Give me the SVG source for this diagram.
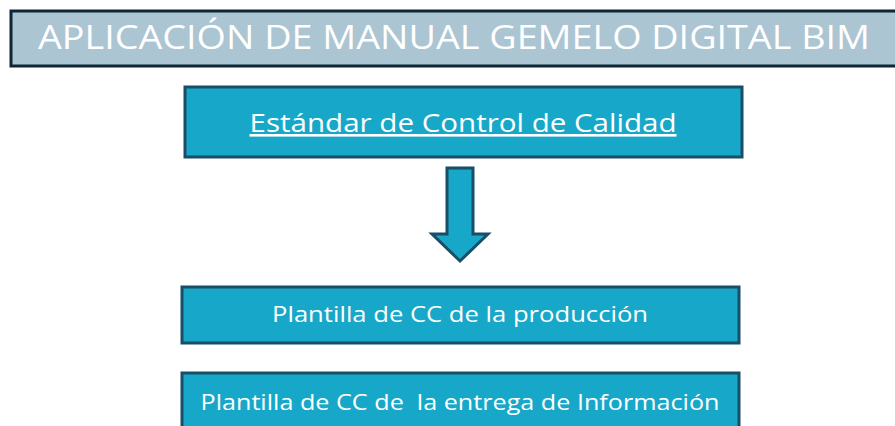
<svg xmlns="http://www.w3.org/2000/svg" width="895" height="426" viewBox="0 0 895 426">
<style>
.title{fill:#abc5d3;stroke:#0e2636;stroke-width:3}
.box{fill:#17a8c9;stroke:#194e68;stroke-width:3}
.t{font-family:"Open Sans","Liberation Sans",Arial,sans-serif;fill:#ffffff;text-anchor:middle;white-space:pre}
.arrow{fill:#17a8c9;stroke:#194e68;stroke-width:3;stroke-linejoin:miter}
</style>
<rect width="895" height="426" fill="#ffffff"/>
<g id="title">
<rect class="title" x="11" y="11" width="886" height="55"/>
<text class="t" x="454" y="49" font-size="32" textLength="832" lengthAdjust="spacingAndGlyphs">APLICACIÓN DE MANUAL GEMELO DIGITAL BIM</text>
</g>
<g id="estandar">
<rect class="box" x="185" y="87" width="557" height="70"/>
<text class="t" x="463" y="132" font-size="26" text-decoration="underline" textLength="427" lengthAdjust="spacingAndGlyphs">Estándar de Control de Calidad</text>
</g>
<g id="connectors">
<path class="arrow" d="M447,168 H473 V234 H488 L460,261 L432,234 H447 Z"/>
</g>
<g id="produccion">
<rect class="box" x="182" y="287" width="557" height="56"/>
<text class="t" x="460" y="322" font-size="22" textLength="376" lengthAdjust="spacingAndGlyphs">Plantilla de CC de la producción</text>
</g>
<g id="entrega">
<rect class="box" x="182" y="373" width="557" height="60"/>
<text class="t" x="460" y="410" font-size="22" textLength="519" lengthAdjust="spacingAndGlyphs" xml:space="preserve">Plantilla de CC de  la entrega de Información</text>
</g>
</svg>
